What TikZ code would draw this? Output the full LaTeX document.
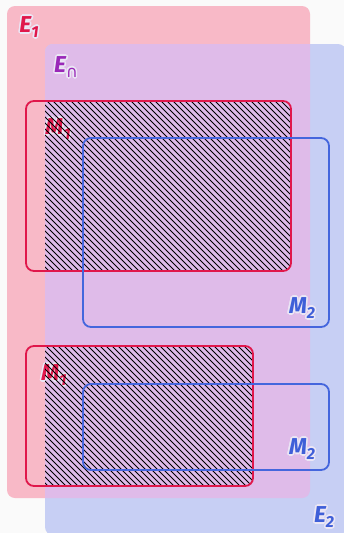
\documentclass[tikz,border=0pt]{standalone}
\usepackage{fontspec}
\setmainfont{Fira Sans}
\newfontfamily\symfont{DejaVu Sans}
\definecolor{bgc}{HTML}{FAFAFA}
\definecolor{eonefill}{HTML}{F8B9C7}
\definecolor{etwofill}{HTML}{C7CFF4}
\definecolor{ecapfill}{HTML}{DFBBE9}
\definecolor{mone}{HTML}{E0174B}
\definecolor{mtwo}{HTML}{4466DD}
\definecolor{lblone}{HTML}{E0174B}
\definecolor{lblcap}{HTML}{9A28B8}
\definecolor{lbltwo}{HTML}{3F5FD8}
\definecolor{halocol}{HTML}{EBE6F5}
\newcommand{\lbltext}[2]{#1\raisebox{-5pt}{\fontsize{16}{16}\selectfont #2}}
% label with a light halo made of offset copies
\newcommand{\hlabel}[4]{%
  \foreach \a in {0,30,...,330} {\node[lab,text=halocol,xshift={1.6*cos(\a)},yshift={1.6*sin(\a)}] at (#2) {#4};}
  \node[lab,text=#3] (#1) at (#2) {#4};}
\begin{document}
\begin{tikzpicture}[x=1pt,y=-1pt,
  mbox/.style={line width=1.8pt,rounded corners=8pt},
  hatch/.style={line width=0.85pt},
  lab/.style={inner sep=0pt,font=\fontsize{23}{23}\selectfont\bfseries\itshape}]
\useasboundingbox (0,0) rectangle (344,533);
\fill[bgc] (0,0) rectangle (344,533);
% E1 and E2
\fill[eonefill,rounded corners=8pt] (7,6) rectangle (310,498);
\fill[etwofill,rounded corners=8pt] (45,44) rectangle (346,535);
\begin{scope}
  \clip[rounded corners=8pt] (7,6) rectangle (310,498);
  \fill[ecapfill,rounded corners=8pt] (45,44) rectangle (346,535);
\end{scope}
% M1 labels (under the hatching)
\hlabel{lm1a}{58,129}{lblone}{\lbltext{M}{1}}
\hlabel{lm1b}{54,375}{lblone}{\lbltext{M}{1}}
% hatching: M1 inside E2
\begin{scope}
  \clip[rounded corners=8pt] (45,44) rectangle (346,535);
  \clip[rounded corners=8pt] (26,101) rectangle (291,271);
  \foreach \c in {-600,-594,...,350} \draw[hatch] (\c,0) -- (\c+600,600);
\end{scope}
\begin{scope}
  \clip[rounded corners=8pt] (45,44) rectangle (346,535);
  \clip[rounded corners=8pt] (26,346) rectangle (253,486);
  \foreach \c in {-600,-594,...,350} \draw[hatch] (\c,0) -- (\c+600,600);
\end{scope}
% M boxes
\draw[mbox,mone] (26,101) rectangle (291,271);
\draw[mbox,mtwo] (83,138) rectangle (329,327);
\draw[mbox,mone] (26,346) rectangle (253,486);
\draw[mbox,mtwo] (83,384) rectangle (329,470);
% labels
\hlabel{le1}{29,27}{lblone}{\lbltext{E}{1}}
\hlabel{lec}{66,67}{lblcap}{\lbltext{E}{\symfont\mdseries\upshape ∩}}
\hlabel{lm2a}{302,308}{lbltwo}{\lbltext{M}{2}}
\hlabel{lm2b}{302,449}{lbltwo}{\lbltext{M}{2}}
\hlabel{le2}{324,517}{lbltwo}{\lbltext{E}{2}}
\end{tikzpicture}
\end{document}
